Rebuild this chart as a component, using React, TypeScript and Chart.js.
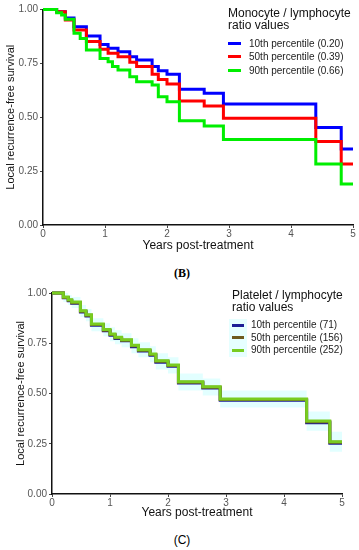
import React, { useEffect, useRef } from 'react';
import { Chart, registerables } from 'chart.js';

Chart.register(...registerables);

// ---------- (B) Monocyte / lymphocyte ratio ----------
const yearsB = [0, 0.22, 0.30, 0.36, 0.50, 0.60, 0.70, 0.92, 1.05, 1.12, 1.21, 1.40, 1.51, 1.76, 1.86, 2.0, 2.2, 2.6, 2.91, 4.40, 4.81, 5.0];
const mlr10 = [1.0, 0.99, 0.99, 0.96, 0.92, 0.92, 0.877, 0.838, 0.82, 0.82, 0.804, 0.781, 0.766, 0.735, 0.716, 0.70, 0.63, 0.611, 0.561, 0.453, 0.353, 0.353];
const mlr50 = [1.0, 0.99, 0.99, 0.951, 0.905, 0.905, 0.851, 0.815, 0.797, 0.797, 0.781, 0.755, 0.735, 0.699, 0.675, 0.654, 0.575, 0.552, 0.495, 0.387, 0.283, 0.283];
const mlr90 = [1.0, 0.985, 0.974, 0.955, 0.89, 0.866, 0.812, 0.773, 0.758, 0.735, 0.719, 0.688, 0.665, 0.65, 0.595, 0.572, 0.484, 0.459, 0.397, 0.283, 0.19, 0.19];
const mlrLabels = ['10th percentile (0.20)', '50th percentile (0.39)', '90th percentile (0.66)'];
const mlrColors = ['#0000ff', '#ff0000', '#00ee00'];

// ---------- (C) Platelet / lymphocyte ratio ----------
const yearsC = [0, 0.195, 0.28, 0.34, 0.49, 0.586, 0.68, 0.885, 1.0, 1.086, 1.2, 1.37, 1.49, 1.69, 1.79, 2.0, 2.18, 2.6, 2.9, 4.39, 4.79, 5.0];
const plr10 = [1.0, 0.976, 0.962, 0.949, 0.906, 0.886, 0.84, 0.812, 0.79, 0.774, 0.762, 0.733, 0.711, 0.69, 0.656, 0.635, 0.552, 0.527, 0.466, 0.355, 0.252, 0.252];
const plr50 = [1.0, 0.978, 0.964, 0.952, 0.909, 0.889, 0.843, 0.815, 0.793, 0.777, 0.765, 0.737, 0.715, 0.694, 0.66, 0.639, 0.556, 0.531, 0.47, 0.36, 0.257, 0.257];
const plr90 = [1.0, 0.98, 0.967, 0.955, 0.912, 0.892, 0.846, 0.818, 0.796, 0.78, 0.768, 0.74, 0.718, 0.697, 0.663, 0.642, 0.559, 0.534, 0.473, 0.363, 0.26, 0.26];
const plrBandUpper = [1.0, 1.0, 0.99, 0.98, 0.94, 0.92, 0.875, 0.85, 0.83, 0.815, 0.80, 0.775, 0.755, 0.735, 0.70, 0.68, 0.60, 0.575, 0.515, 0.41, 0.31, 0.31];
const plrBandLower = [1.0, 0.955, 0.94, 0.925, 0.88, 0.86, 0.81, 0.785, 0.76, 0.745, 0.73, 0.70, 0.68, 0.655, 0.62, 0.60, 0.515, 0.49, 0.43, 0.315, 0.21, 0.21];
const plrLabels = ['10th percentile (71)', '50th percentile (156)', '90th percentile (252)'];
const plrColors = ['#1e1e96', '#6e5a1e', '#78cc20'];

// ---------- shared axes ----------
const survivalTicks = [0, 0.25, 0.5, 0.75, 1];
const yearTicks = [0, 1, 2, 3, 4, 5];

const SANS = '"Liberation Sans", Arial, Helvetica, sans-serif';

const toPts = (xs: number[], ys: number[]) => xs.map((x, i) => ({ x, y: ys[i] }));

type Geo = {
  width: number;
  height: number;
  padLeft: number;
  padRight: number;
  padTop: number;
  yWidth: number;
  xHeight: number;
};

function KMChart({ datasets, geo }: { datasets: any[]; geo: Geo }) {
  const ref = useRef<HTMLCanvasElement | null>(null);
  useEffect(() => {
    if (!ref.current) return;
    const tickFont = { family: SANS, size: 10 };
    const chart = new Chart(ref.current, {
      type: 'line',
      data: { datasets },
      options: {
        animation: false,
        responsive: false,
        maintainAspectRatio: false,
        layout: { padding: { left: geo.padLeft, right: geo.padRight, top: geo.padTop, bottom: 0 } },
        plugins: { legend: { display: false }, tooltip: { enabled: false } },
        elements: { point: { radius: 0 }, line: { tension: 0 } },
        scales: {
          x: {
            type: 'linear',
            min: 0,
            max: 5,
            afterBuildTicks: (s: any) => {
              s.ticks = yearTicks.map((v) => ({ value: v }));
            },
            afterFit: (s: any) => {
              s.height = geo.xHeight;
            },
            ticks: { font: tickFont, color: '#555', padding: 0, maxRotation: 0, autoSkip: false, callback: (v: any) => String(v) },
            grid: { drawOnChartArea: false, drawTicks: true, tickLength: 3, color: '#444', lineWidth: 1 },
            border: { display: true, color: '#111', width: 1.5 },
            title: { display: true, text: 'Years post-treatment', color: '#111', font: { family: SANS, size: 12 }, padding: { top: 0, bottom: 4 } },
          },
          y: {
            type: 'linear',
            min: 0,
            max: 1,
            afterBuildTicks: (s: any) => {
              s.ticks = survivalTicks.map((v) => ({ value: v }));
            },
            afterFit: (s: any) => {
              s.width = geo.yWidth;
            },
            ticks: { font: tickFont, color: '#555', padding: 2, callback: (v: any) => Number(v).toFixed(2) },
            grid: { drawOnChartArea: false, drawTicks: true, tickLength: 3, color: '#444', lineWidth: 1 },
            border: { display: true, color: '#111', width: 1.5 },
            title: { display: true, text: 'Local recurrence-free survival', color: '#111', font: { family: SANS, size: 11 }, padding: { top: 4, bottom: 0 } },
          },
        },
      },
    } as any);
    return () => chart.destroy();
  }, []);
  return <canvas ref={ref} width={geo.width} height={geo.height} style={{ display: 'block', width: geo.width, height: geo.height }} />;
}

function Legend({ left, top, title, labels, colors, rowH, textLeft, sampleW, band }: any) {
  return (
    <div style={{ position: 'absolute', left, top, fontFamily: SANS, color: '#111' }}>
      <div style={{ fontSize: 12, lineHeight: '12px', whiteSpace: 'nowrap' }}>
        {title.map((t: string, i: number) => (
          <div key={i}>{t}</div>
        ))}
      </div>
      <div style={{ marginTop: 6 }}>
        {labels.map((l: string, i: number) => (
          <div key={i} style={{ position: 'relative', height: rowH, fontSize: 10, lineHeight: rowH + 'px', whiteSpace: 'nowrap' }}>
            {band ? (
              <div style={{ position: 'absolute', left: -3, top: 0, width: sampleW + 6, height: rowH, background: 'rgba(200,255,255,0.45)' }} />
            ) : null}
            <div style={{ position: 'absolute', left: 0, top: rowH / 2 - 1.5, width: sampleW, height: 3, background: colors[i] }} />
            <div style={{ position: 'absolute', left: textLeft, top: 0, color: '#222' }}>{l}</div>
          </div>
        ))}
      </div>
    </div>
  );
}

export default function App() {
  const line = (data: any, color: string, order: number) => ({
    data,
    borderColor: color,
    borderWidth: 3,
    stepped: true,
    fill: false,
    pointRadius: 0,
    clip: false,
    order,
  });

  const dsB = [
    line(toPts(yearsB, mlr90), mlrColors[2], 0),
    line(toPts(yearsB, mlr50), mlrColors[1], 1),
    line(toPts(yearsB, mlr10), mlrColors[0], 2),
  ];

  const dsC = [
    {
      data: toPts(yearsC, plrBandUpper),
      borderWidth: 0,
      borderColor: 'rgba(0,0,0,0)',
      backgroundColor: 'rgba(190,255,255,0.45)',
      stepped: true,
      fill: '+1',
      pointRadius: 0,
      order: 5,
    },
    {
      data: toPts(yearsC, plrBandLower),
      borderWidth: 0,
      borderColor: 'rgba(0,0,0,0)',
      stepped: true,
      fill: false,
      pointRadius: 0,
      order: 6,
    },
    line(toPts(yearsC, plr90), plrColors[2], 0),
    line(toPts(yearsC, plr50), plrColors[1], 1),
    line(toPts(yearsC, plr10), plrColors[0], 2),
  ];

  return (
    <div style={{ position: 'absolute', left: 0, top: 0, width: 359, height: 550, background: '#fff', overflow: 'hidden' }}>
      <div style={{ position: 'absolute', left: 0, top: 0 }}>
        <KMChart datasets={dsB} geo={{ width: 359, height: 257, padLeft: 0, padRight: 6, padTop: 9.5, yWidth: 43, xHeight: 32 }} />
      </div>
      <Legend
        left={228}
        top={7}
        title={['Monocyte / lymphocyte', 'ratio values']}
        labels={mlrLabels}
        colors={mlrColors}
        rowH={13.3}
        textLeft={21}
        sampleW={13}
        band={false}
      />
      <div style={{ position: 'absolute', left: 0, width: 359, top: 265, textAlign: 'center', paddingLeft: 5, boxSizing: 'border-box', fontFamily: '"Liberation Serif", "Times New Roman", serif', fontWeight: 'bold', fontSize: 12, lineHeight: '16px' }}>
        (B)
      </div>

      <div style={{ position: 'absolute', left: 0, top: 285 }}>
        <KMChart datasets={dsC} geo={{ width: 359, height: 239, padLeft: 10, padRight: 17, padTop: 8, yWidth: 42, xHeight: 30 }} />
      </div>
      <Legend
        left={232}
        top={289}
        title={['Platelet / lymphocyte', 'ratio values']}
        labels={plrLabels}
        colors={plrColors}
        rowH={12.5}
        textLeft={19}
        sampleW={12}
        band={true}
      />
      <div style={{ position: 'absolute', left: 0, width: 359, top: 532, textAlign: 'center', paddingLeft: 5, boxSizing: 'border-box', fontFamily: SANS, fontSize: 12, lineHeight: '16px' }}>
        (C)
      </div>
    </div>
  );
}
